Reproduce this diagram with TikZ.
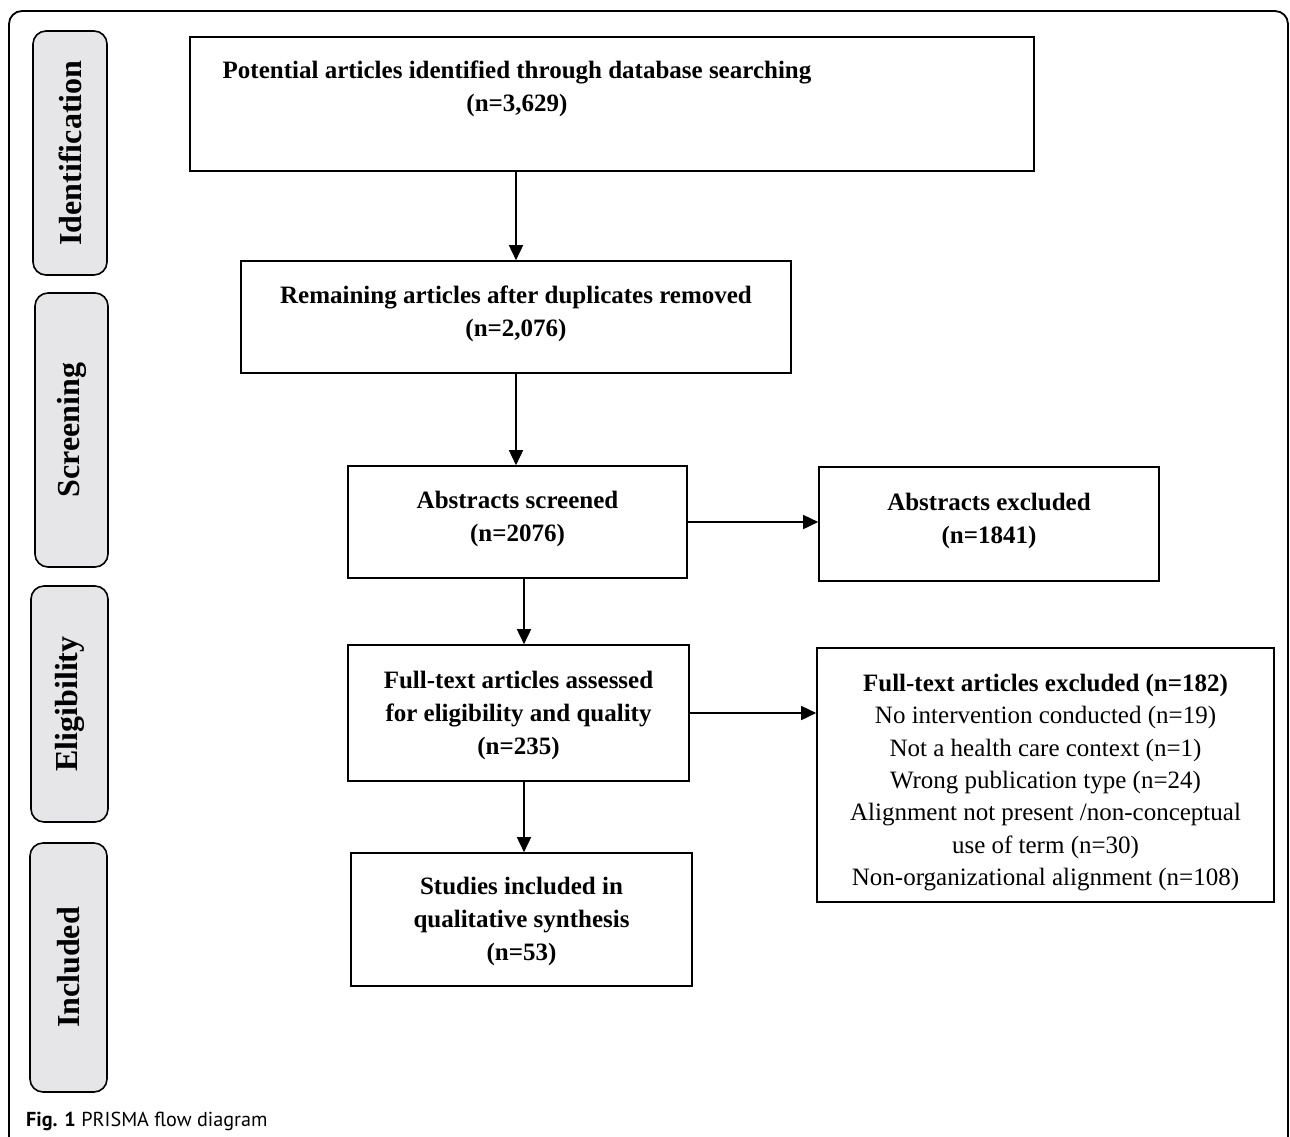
\documentclass[tikz,border=0pt]{standalone}
\usepackage{fontspec}
\setmainfont{Liberation Serif}
\newfontfamily\capfont{PT Sans}
\usetikzlibrary{arrows.meta,calc}
\definecolor{sidegray}{HTML}{E6E5E7}
\begin{document}
\begin{tikzpicture}[x=1pt,y=-1pt,
  box/.style={draw, line width=1.6pt, inner sep=0pt},
  txt/.style={align=center, inner sep=0pt, font=\fontsize{25}{33}\selectfont\bfseries},
  plaintxt/.style={align=center, inner sep=0pt, font=\fontsize{25}{32.3}\selectfont},
  side/.style={draw, line width=1.6pt, fill=sidegray, rounded corners=13pt, rotate=90,
    inner sep=0pt, font=\fontsize{32}{36}\selectfont\bfseries},
  arr/.style={line width=1.6pt, -{Triangle[length=15pt,width=14pt]}}
]
\useasboundingbox (0,0) rectangle (1290,1136);
% outer frame
\draw[line width=1.8pt, rounded corners=13pt] (9,1170) -- (9,11) -- (1288,11) -- (1288,1170);

% side labels
\node[side, minimum width=244pt, minimum height=74pt] (s1) at (70,153) {Identification};
\node[side, minimum width=274pt, minimum height=73pt] (s2) at (71.5,430) {Screening};
\node[side, minimum width=236pt, minimum height=77pt] (s3) at (69.5,704) {Eligibility};
\node[side, minimum width=249pt, minimum height=77pt] (s4) at (68.5,967.5) {Included};

% boxes
\node[box, minimum width=844pt, minimum height=134pt] (b1) at (612,104) {};
\node[box, minimum width=550pt, minimum height=112pt] (b2) at (516,317) {};
\node[box, minimum width=339pt, minimum height=112pt] (b3) at (517.5,522) {};
\node[box, minimum width=340pt, minimum height=114pt] (b4) at (989,524) {};
\node[box, minimum width=341pt, minimum height=136pt] (b5) at (518.5,713) {};
\node[box, minimum width=457pt, minimum height=254pt] (b6) at (1045.5,775) {};
\node[box, minimum width=341pt, minimum height=133pt] (b7) at (521.5,919.5) {};

% box texts
\node[txt] (t1) at (517,89) {Potential articles identified through database searching\\(n=3,629)};
\node[txt] (t2) at (516,313.5) {Remaining articles after duplicates removed\\(n=2,076)};
\node[txt] (t3) at (517.5,518.5) {Abstracts screened\\(n=2076)};
\node[txt] (t4) at (989,521) {Abstracts excluded\\(n=1841)};
\node[txt] (t5) at (518.5,715.5) {Full-text articles assessed\\for eligibility and quality\\(n=235)};
\node[plaintxt] (t6) at (1045.5,782.5) {\textbf{Full-text articles excluded (n=182)}\\No intervention conducted (n=19)\\Not a health care context (n=1)\\Wrong publication type (n=24)\\Alignment not present /non-conceptual\\use of term (n=30)\\Non-organizational alignment (n=108)};
\node[txt] (t7) at (521.5,921.5) {Studies included in\\qualitative synthesis\\(n=53)};

% arrows
\draw[arr] (b1.south -| b2.north) -- (b2.north);
\draw[arr] (b2.south) -- (b2.south |- b3.north);
\draw[arr] (b3.east) -- (b3.east -| b4.west);
\draw[arr] ([xshift=6.5pt]b3.south) -- ([xshift=6.5pt]b3.south |- b5.north);
\draw[arr] (b5.east) -- (b5.east -| b6.west);
\draw[arr] ([xshift=5.5pt]b5.south) -- ([xshift=5.5pt]b5.south |- b7.north);

% caption
\node[anchor=base west, inner sep=0pt, font=\capfont\fontsize{20.2}{24}\selectfont] (cap) at (26,1126) {\textbf{Fig. 1} PRISMA flow diagram};
\end{tikzpicture}
\end{document}
